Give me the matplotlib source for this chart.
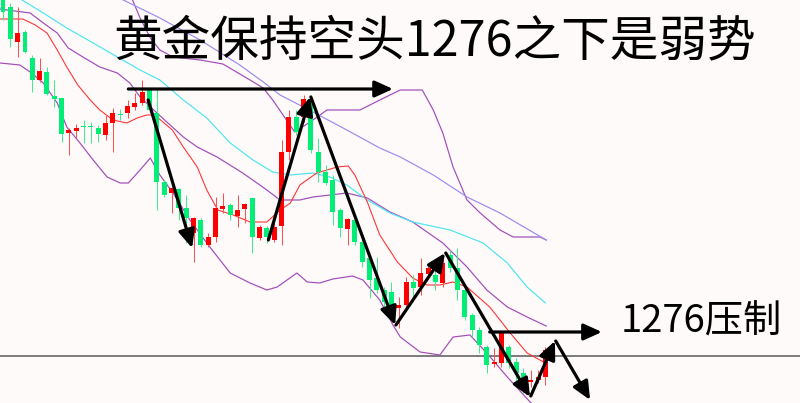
import matplotlib
matplotlib.use('Agg')
import matplotlib.pyplot as plt
import numpy as np

plt.rcParams['font.family'] = ['Noto Sans CJK SC', 'DejaVu Sans']

# ---- candle data (prices) ----
opens = [1309.2, 1308.5, 1305.0, 1306.0, 1303.4, 1301.2, 1302.0, 1299.6, 1299.4, 1295.9,
         1296.1, 1296.6, 1296.6, 1296.4, 1295.7, 1296.9, 1297.8, 1297.9, 1298.5, 1298.9,
         1300.2, 1297.9, 1291.0, 1289.9, 1290.3, 1288.4, 1285.9, 1287.2, 1284.7, 1285.5,
         1288.3, 1288.7, 1287.6, 1288.3, 1289.4, 1285.4, 1286.4, 1285.2, 1286.6, 1294.0,
         1297.5, 1297.5, 1298.9, 1294.0, 1292.0, 1291.2, 1288.2, 1286.3, 1287.2, 1285.0,
         1283.4, 1281.4, 1280.2, 1280.0, 1278.4, 1278.7, 1281.0, 1280.5, 1281.8, 1281.7,
         1280.9, 1283.7, 1282.4, 1280.2, 1277.7, 1276.2, 1274.5, 1272.8, 1272.9, 1274.5,
         1273.0, 1271.9, 1271.0, 1271.2, 1271.5]
highs = [1309.4, 1308.9, 1308.5, 1306.2, 1303.7, 1303.4, 1302.5, 1301.2, 1299.4, 1296.4,
         1296.8, 1297.2, 1297.0, 1296.7, 1297.7, 1298.4, 1298.3, 1299.2, 1299.9, 1301.2,
         1300.4, 1300.2, 1291.2, 1290.5, 1290.4, 1289.7, 1287.5, 1287.4, 1285.9, 1289.5,
         1289.9, 1288.9, 1289.7, 1288.9, 1289.4, 1286.7, 1286.6, 1287.2, 1295.2, 1298.2,
         1298.2, 1299.7, 1299.7, 1295.4, 1292.7, 1291.7, 1288.4, 1287.4, 1287.4, 1285.4,
         1283.7, 1283.5, 1280.5, 1281.0, 1279.5, 1281.5, 1281.7, 1283.4, 1282.6, 1282.2,
         1283.4, 1284.2, 1284.4, 1280.7, 1277.9, 1276.5, 1274.7, 1274.4, 1275.9, 1274.7,
         1273.4, 1272.4, 1272.2, 1272.2, 1274.5]
lows = [1307.2, 1304.5, 1303.5, 1303.9, 1300.0, 1301.0, 1299.7, 1298.5, 1295.0, 1293.7,
        1295.4, 1294.9, 1294.9, 1295.0, 1295.2, 1294.0, 1297.2, 1297.4, 1298.2, 1298.7,
        1298.0, 1288.2, 1289.5, 1287.9, 1287.2, 1284.9, 1283.0, 1284.5, 1284.5, 1285.0,
        1287.9, 1287.2, 1286.5, 1286.9, 1283.9, 1285.2, 1284.9, 1285.0, 1284.7, 1293.2,
        1295.7, 1297.0, 1293.9, 1291.0, 1290.7, 1286.7, 1285.5, 1284.7, 1284.7, 1282.5,
        1279.4, 1279.9, 1278.4, 1277.7, 1276.4, 1278.5, 1279.4, 1279.7, 1281.5, 1280.2,
        1280.5, 1282.0, 1279.2, 1277.2, 1275.5, 1273.9, 1271.9, 1272.5, 1272.5, 1272.4,
        1270.7, 1269.9, 1270.5, 1270.9, 1270.7]
closes = [1308.0, 1305.3, 1305.9, 1304.0, 1301.2, 1302.1, 1299.8, 1299.3, 1295.8, 1296.2,
          1296.4, 1296.5, 1296.5, 1295.8, 1296.9, 1297.9, 1297.7, 1298.6, 1298.9, 1300.0,
          1298.2, 1291.0, 1289.7, 1290.4, 1288.4, 1287.4, 1287.4, 1284.7, 1285.5, 1288.4,
          1288.6, 1287.7, 1288.2, 1288.8, 1285.5, 1286.5, 1285.5, 1286.5, 1294.0, 1297.5,
          1296.0, 1299.3, 1294.2, 1292.0, 1290.9, 1288.0, 1286.4, 1287.3, 1285.0, 1283.0,
          1281.2, 1280.2, 1279.0, 1278.7, 1278.7, 1281.0, 1280.4, 1281.9, 1282.4, 1281.0,
          1282.9, 1282.4, 1280.2, 1277.5, 1276.2, 1274.7, 1272.7, 1273.0, 1275.9, 1272.9,
          1271.9, 1270.7, 1271.2, 1271.5, 1274.2]

# ---- indicator lines (bar index, price) ----
ma_red_x = [-0.4, 2.7, 4.4, 6.0, 7.4, 8.7, 10.2, 11.9, 13.2, 15.0, 16.9, 18.3, 19.6, 20.7,
            23.1, 24.6, 26.5, 27.8, 29.3, 31.4, 33.7, 36.0, 37.8, 39.2, 40.5, 42.8, 45.6,
            47.1, 48.0, 49.7, 51.4, 53.8, 55.9, 57.8, 59.6, 61.4, 63.3, 66.4, 69.2, 71.5, 74.0]
ma_red_y = [1307.3, 1307.3, 1306.7, 1305.9, 1304.2, 1302.5, 1300.7, 1299.2, 1298.2, 1297.2,
            1296.9, 1297.4, 1297.7, 1297.7, 1296.2, 1294.5, 1292.5, 1290.2, 1288.2, 1287.7,
            1287.0, 1287.0, 1288.2, 1288.9, 1290.7, 1291.9, 1292.5, 1292.6, 1291.7, 1289.0,
            1285.7, 1283.0, 1281.4, 1280.7, 1280.7, 1281.0, 1280.5, 1278.5, 1275.9, 1273.9, 1272.9]

ma_cyan_x = [1.0, 2.6, 5.5, 8.7, 12.3, 15.6, 18.7, 21.4, 24.6, 27.8, 31.0, 34.1, 36.8, 39.2,
             42.3, 44.6, 46.9, 49.7, 52.8, 55.9, 61.0, 65.5, 68.8, 71.5, 74.0]
ma_cyan_y = [1310.0, 1309.2, 1307.9, 1306.4, 1304.9, 1303.5, 1302.2, 1301.2, 1299.2, 1297.4,
             1294.9, 1293.2, 1292.0, 1291.7, 1291.9, 1291.5, 1290.7, 1289.2, 1287.9, 1287.0,
             1286.2, 1284.9, 1282.9, 1280.5, 1278.9]

ma_blue_x = [14.6, 16.4, 21.4, 26.9, 32.3, 35.5, 37.8, 42.3, 46.9, 51.4, 54.2, 58.7, 63.3, 67.8, 74.1]
ma_blue_y = [1309.9, 1309.2, 1307.4, 1305.2, 1302.7, 1301.0, 1299.7, 1298.0, 1296.2, 1294.4,
             1293.5, 1291.7, 1289.5, 1287.9, 1285.2]

band_a_x = [17.1, 18.7, 20.1, 21.4, 23.2, 26.9, 30.0, 33.7, 35.5, 36.8, 38.2, 39.8, 41.9, 44.2,
            48.7, 51.4, 54.2, 57.2, 58.7, 60.0, 61.4, 63.3, 65.1, 67.8, 69.6, 73.3, 74.1]
band_a_y = [1310.2, 1307.4, 1305.4, 1304.2, 1303.5, 1303.2, 1302.8, 1301.2, 1300.4, 1299.2,
            1297.7, 1296.0, 1297.0, 1298.2, 1298.2, 1299.2, 1300.2, 1300.2, 1298.2, 1295.9,
            1292.5, 1289.2, 1287.9, 1286.2, 1285.5, 1285.5, 1285.2]

band_up_x = [-0.4, 3.7, 5.5, 7.4, 8.9, 10.9, 13.2, 15.6, 17.3, 18.7, 21.0, 24.6, 26.5, 29.2,
             32.7, 36.0, 37.8, 40.5, 42.3, 46.9, 49.7, 52.8, 55.9, 60.0, 63.3, 66.0, 68.8, 71.5, 74.1]
band_up_y = [1308.3, 1307.9, 1306.9, 1305.9, 1304.4, 1303.5, 1302.5, 1301.9, 1300.9, 1299.5,
             1297.9, 1295.5, 1294.5, 1293.5, 1291.9, 1290.2, 1289.2, 1289.2, 1289.5, 1289.9,
             1289.4, 1288.0, 1287.0, 1284.9, 1282.5, 1280.2, 1278.5, 1277.5, 1276.6]

band_lo_x = [-0.4, 2.3, 3.7, 5.5, 7.4, 8.7, 10.5, 12.3, 14.2, 16.0, 17.1, 18.7, 20.1, 21.4,
             23.2, 25.5, 27.8, 29.6, 31.0, 33.7, 36.0, 37.4, 40.1, 41.5, 43.2, 45.0, 47.7,
             49.1, 51.4, 53.2, 54.2, 56.9, 59.6, 61.4, 63.7, 66.0, 68.8, 71.9, 74.1]
band_lo_y = [1302.9, 1302.7, 1302.0, 1300.9, 1298.9, 1296.5, 1294.9, 1293.2, 1291.5, 1290.9,
             1290.9, 1292.2, 1293.4, 1291.7, 1289.9, 1287.2, 1284.9, 1283.2, 1281.9, 1280.9,
             1280.2, 1280.5, 1281.9, 1281.0, 1280.9, 1281.3, 1281.6, 1281.2, 1279.2, 1276.7,
             1275.5, 1274.0, 1273.7, 1275.5, 1275.7, 1273.9, 1271.5, 1269.0, 1267.7]

price_line = 1273.6

# arrows: (start_x, start_y, end_x, end_y)
arrows = [
    (17.1, 1300.3, 53.2, 1300.3),
    (19.8, 1299.2, 25.8, 1284.4),
    (36.2, 1285.2, 41.9, 1299.5),
    (42.0, 1299.5, 53.5, 1276.7),
    (53.6, 1276.7, 60.3, 1283.9),
    (60.4, 1283.9, 71.9, 1269.5),
    (72.0, 1269.6, 75.3, 1275.1),
    (75.4, 1275.1, 80.1, 1269.2),
    (66.4, 1276.0, 81.7, 1276.0),
]

title_text = '黄金保持空头1276之下是弱势'
label_text = '1276压制'

# ---- drawing ----
bg = '#FFFAFA'
fig = plt.figure(figsize=(8.0, 4.03), dpi=100, facecolor=bg)
ax = fig.add_axes([0, 0, 1, 1])
ax.set_facecolor(bg)
ax.set_xlim(-0.41, 108.73)
ax.set_ylim(1268.9, 1309.2)
ax.axis('off')

px = 0.72
ax.axhline(price_line, color='#555555', lw=1.5 * px, zorder=1)

ax.plot(band_a_x, band_a_y, color='#A24DB8', lw=1.2 * px, zorder=2)
ax.plot(band_up_x, band_up_y, color='#A24DB8', lw=1.2 * px, zorder=2)
ax.plot(band_lo_x, band_lo_y, color='#A24DB8', lw=1.2 * px, zorder=2)
ax.plot(ma_blue_x, ma_blue_y, color='#9A8CF2', lw=1.2 * px, zorder=2)
ax.plot(ma_cyan_x, ma_cyan_y, color='#4CE6F0', lw=1.2 * px, zorder=2)
ax.plot(ma_red_x, ma_red_y, color='#FF3535', lw=1.1 * px, zorder=2)

o = np.array(opens); c = np.array(closes); h = np.array(highs); l = np.array(lows)
idx = np.arange(len(o))
up = c >= o
green = '#00EE76'
red = '#FF0000'
cols = np.where(up, red, green)
wcols = np.where(up, '#FF5050', '#40EE90')
ax.vlines(idx, l, h, colors=wcols, lw=1.0 * px, zorder=3)
bottoms = np.minimum(o, c)
heights = np.maximum(np.abs(c - o), 0.12)
ax.bar(idx, heights, bottom=bottoms, width=0.68, color=cols, linewidth=0, zorder=4)

for (x0, y0, x1, y1) in arrows:
    ax.annotate('', xy=(x1, y1), xytext=(x0, y0),
                arrowprops=dict(arrowstyle='-|>,head_length=0.55,head_width=0.25',
                                lw=2.3, color='black', mutation_scale=20,
                                shrinkA=0, shrinkB=0), zorder=6)

fig.text(435 / 800, 1 - 42 / 403, title_text, fontsize=35, color='black',
         ha='center', va='center', fontweight='light')
fig.text(621 / 800, 1 - 322 / 403, label_text, fontsize=27.5, color='black',
         ha='left', va='center', fontweight='light')

fig.savefig('out.png', dpi=100, facecolor=bg)
